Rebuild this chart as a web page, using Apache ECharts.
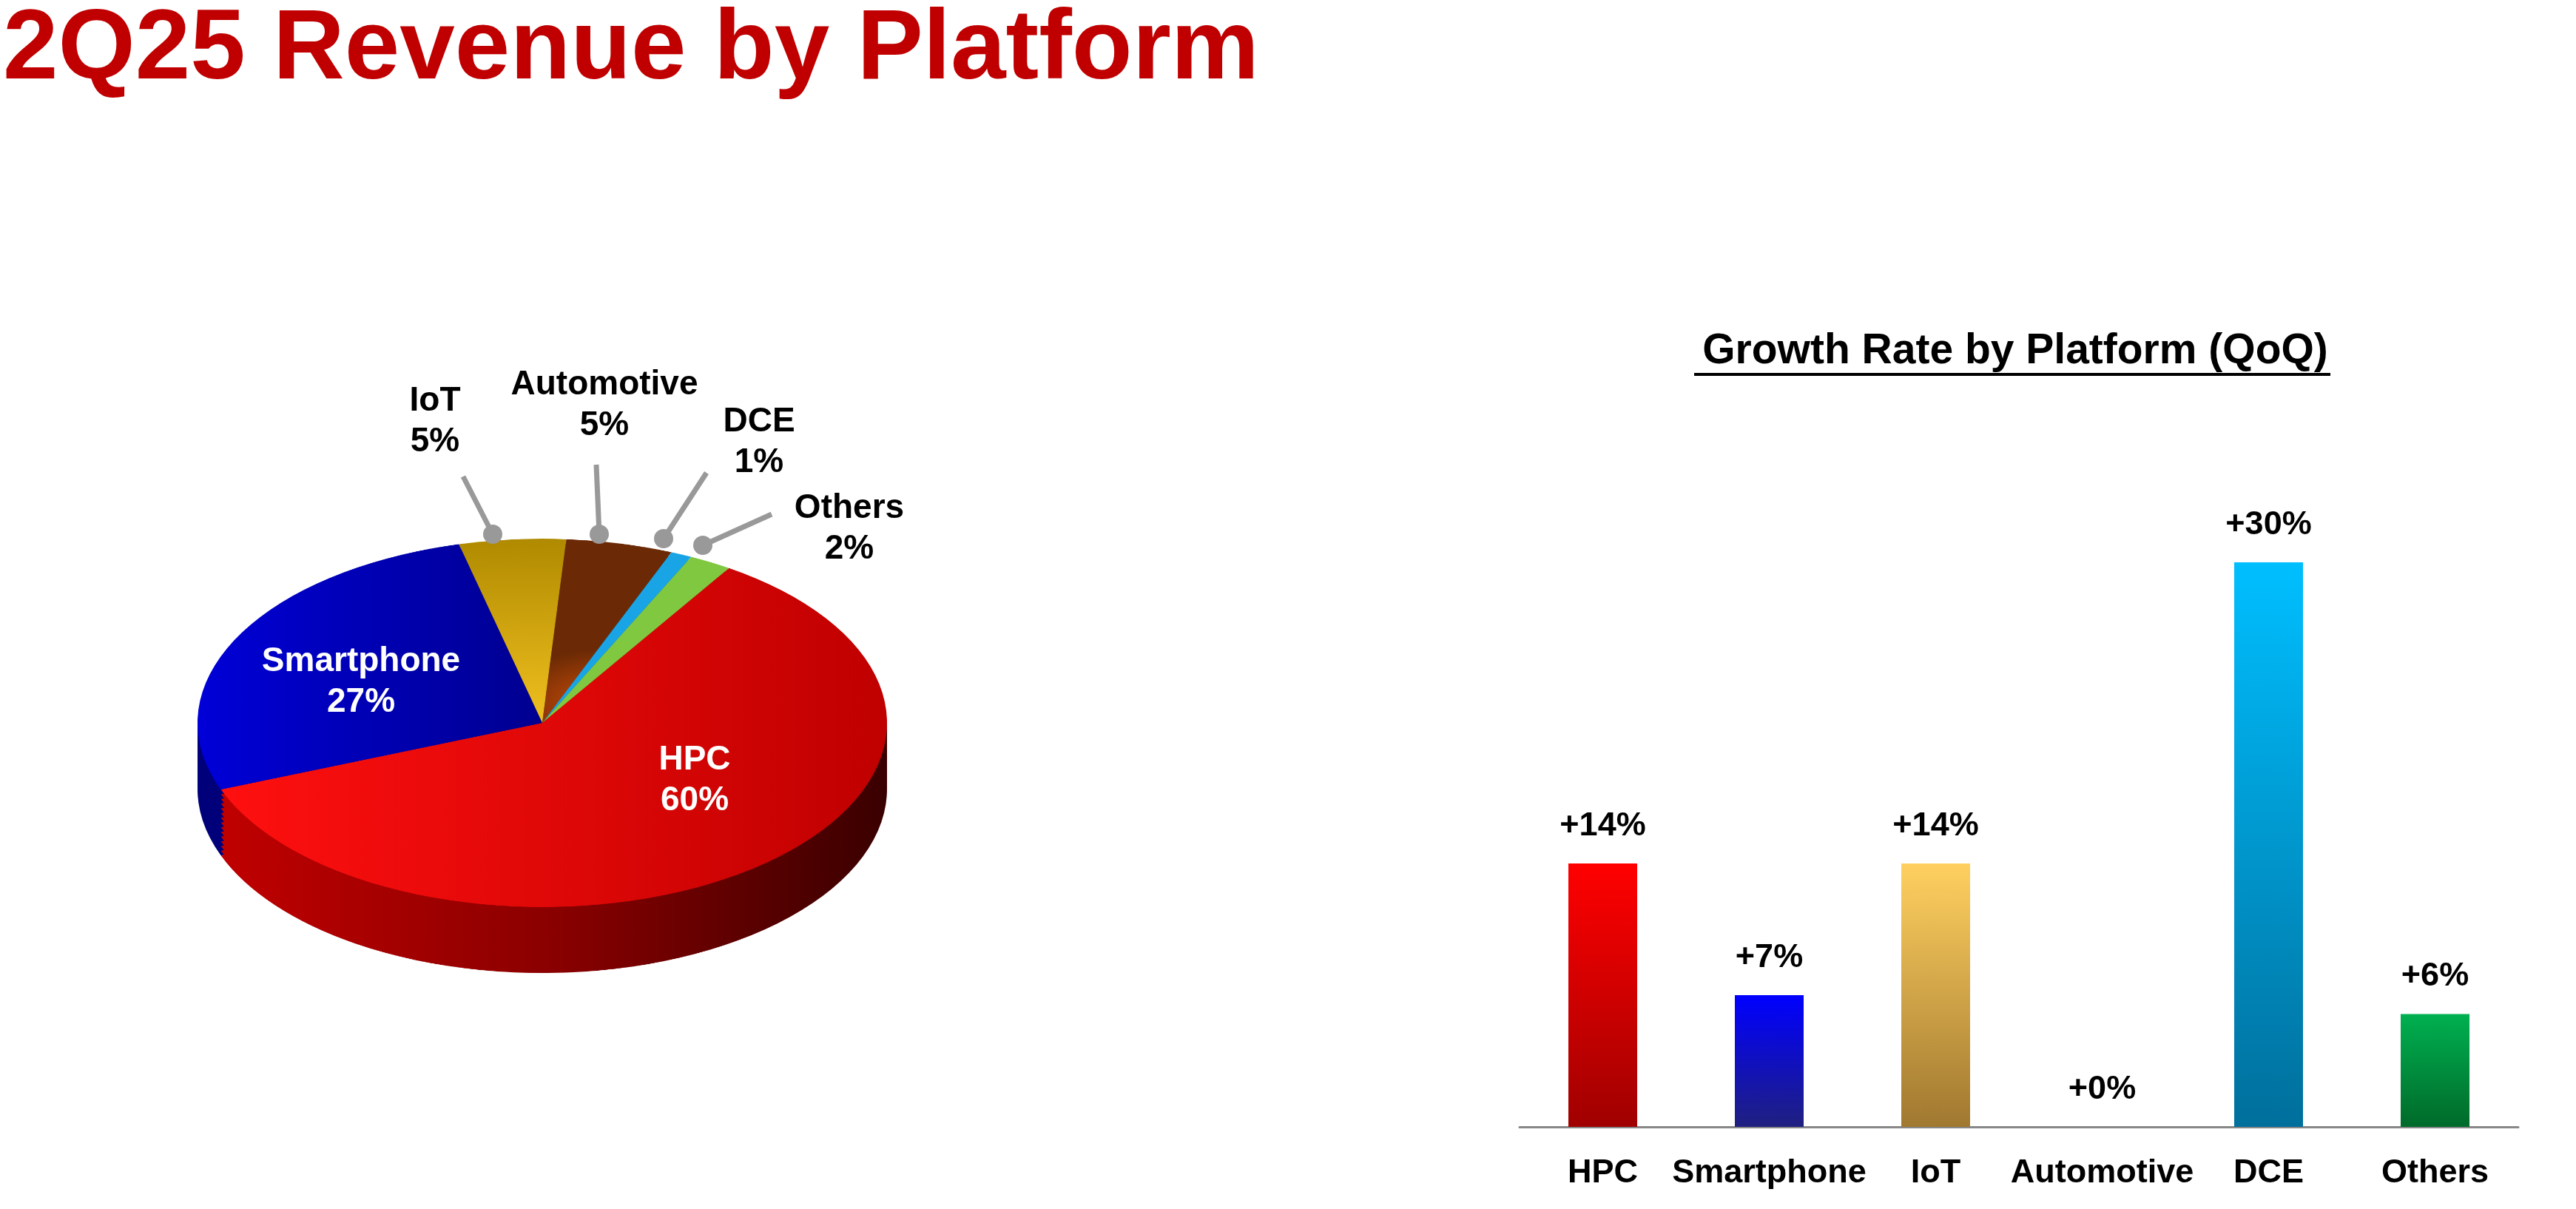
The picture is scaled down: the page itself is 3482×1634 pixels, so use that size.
<!DOCTYPE html>
<html><head><meta charset="utf-8">
<script src="https://cdn.jsdelivr.net/npm/echarts@6/dist/echarts.min.js"></script>
<style>
html,body{margin:0;padding:0;background:#fff;}
#pie{position:absolute;left:233px;top:477px;width:1000px;height:1200px;transform:scaleY(0.534);transform-origin:500px 500px;z-index:1;}
#main{position:absolute;left:0;top:0;width:3482px;height:1634px;z-index:2;}
</style></head>
<body>
<div id="pie"></div>
<div id="main"></div>
<script>
const pieNames = ['IoT','Automotive','DCE','Others','HPC','Smartphone'];
const pieValues = [5,5,1,2,60,27];
const barCategories = ['HPC','Smartphone','IoT','Automotive','DCE','Others'];
const barValues = [14,7,14,0,30,6];

const topColors = {
  IoT: {type:'linear',x:0,y:0,x2:0,y2:1,colorStops:[{offset:0,color:'#b08a00'},{offset:1,color:'#f0c020'}]},
  Automotive: {type:'radial',x:0.5,y:0.9,r:0.8,colorStops:[{offset:0,color:'#d2500a'},{offset:1,color:'#6b2a05'}]},
  DCE: '#19a4e6',
  Others: '#80c840',
  HPC: {type:'linear',x:0,y:0,x2:1,y2:0,colorStops:[{offset:0,color:'#ff1010'},{offset:1,color:'#c00000'}]},
  Smartphone: {type:'linear',x:0,y:0,x2:1,y2:0,colorStops:[{offset:0,color:'#0000d8'},{offset:1,color:'#000090'}]}
};
const sideColors = {
  IoT:'#8a6a00', Automotive:'#5a2405', DCE:'#0a6a9a', Others:'#4a8a20',
  HPC:{type:'linear',x:0,y:0,x2:1,y2:0,colorStops:[{offset:0,color:'#c00000'},{offset:0.5,color:'#8a0000'},{offset:1,color:'#3a0000'}]},
  Smartphone:'#00007a'
};
const R = 466, depth = 167;
const pieSeries = [];
const layers = 14;
for (let i = layers; i >= 1; i--) {
  pieSeries.push({
    type:'pie', radius:[0,R], center:[500, 500 + depth*i/layers], startAngle:104, clockwise:true,
    silent:true, animation:false, label:{show:false}, labelLine:{show:false},
    data: pieNames.map((n,k)=>({name:n,value:pieValues[k],itemStyle:{color:sideColors[n]}}))
  });
}
pieSeries.push({
  type:'pie', radius:[0,R], center:[500,500], startAngle:104, clockwise:true,
  silent:true, animation:false, label:{show:false}, labelLine:{show:false},
  data: pieNames.map((n,k)=>({name:n,value:pieValues[k],itemStyle:{color:topColors[n]}}))
});
echarts.init(document.getElementById('pie')).setOption({series:pieSeries, animation:false});

const barColors = [
  ['#ff0000','#a00000'],['#0000ff','#202080'],['#ffd060','#a07830'],
  ['#cccccc','#999999'],['#00bfff','#006f9c'],['#00b050','#006a2a']
];
const font = 'Liberation Sans, Arial, sans-serif';
function ln(x1,y1,x2,y2){
  return [{type:'line',z:5,shape:{x1,y1,x2,y2},style:{stroke:'#999',lineWidth:7}},
          {type:'circle',z:6,shape:{cx:x2,cy:y2,r:13},style:{fill:'#999'}}];
}
function lbl(x,y,t,c){
  return {type:'text',x,y,z:10,style:{text:t,fill:c||'#000',font:'bold 46px '+font,textAlign:'center',textVerticalAlign:'middle',lineHeight:55}};
}
const graphic = [
  {type:'text',left:4,top:2,style:{text:'2Q25 Revenue by Platform',fill:'#c00000',font:'bold 134px '+font}},
  {type:'text',x:2724,y:475,style:{text:'Growth Rate by Platform (QoQ)',fill:'#000',font:'bold 57px '+font,textAlign:'center',textVerticalAlign:'middle'}},
  {type:'line',shape:{x1:2290,y1:506,x2:3150,y2:506},style:{stroke:'#000',lineWidth:4}},
  lbl(588,570,'IoT\n5%'), lbl(817,548,'Automotive\n5%'), lbl(1026,598,'DCE\n1%'), lbl(1148,715,'Others\n2%'),
  lbl(488,922,'Smartphone\n27%','#fff'), lbl(939,1055,'HPC\n60%','#fff'),
  ...ln(626,644,666,722), ...ln(806,628,810,722), ...ln(955,639,897,728), ...ln(1043,695,950,737)
];
echarts.init(document.getElementById('main')).setOption({
  animation:false,
  graphic,
  grid:{left:2054,top:760,width:1350,height:763,containLabel:false},
  xAxis:{type:'category',data:barCategories,axisLine:{lineStyle:{color:'#888',width:3}},axisTick:{show:false},
    axisLabel:{interval:0,color:'#000',fontWeight:'bold',fontSize:45,fontFamily:font,margin:40}},
  yAxis:{type:'value',min:0,max:30,show:false,splitLine:{show:false}},
  series:[{type:'bar',barWidth:93,
    data:barValues.map((v,i)=>({value:v,itemStyle:{color:{type:'linear',x:0,y:0,x2:0,y2:1,colorStops:[{offset:0,color:barColors[i][0]},{offset:1,color:barColors[i][1]}]}}})),
    label:{show:true,position:'top',formatter:p=>'+'+p.value+'%',color:'#000',fontWeight:'bold',fontSize:45,fontFamily:font,distance:28}
  }]
});
</script>
</body></html>
